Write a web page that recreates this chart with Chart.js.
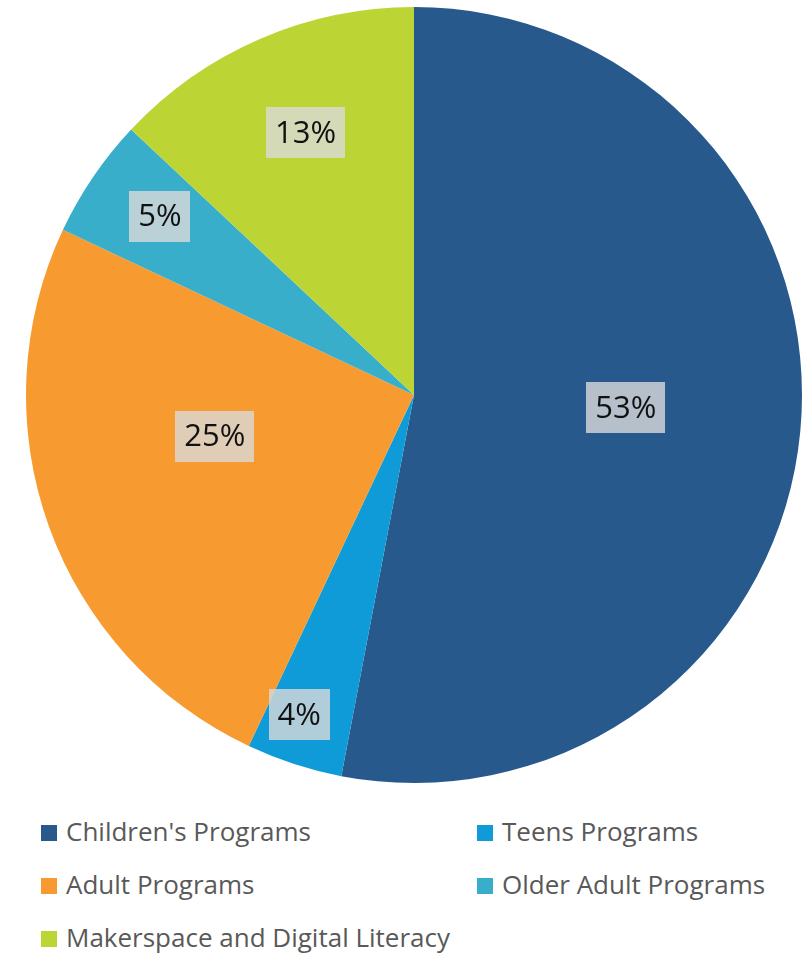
<!DOCTYPE html>
<html>
<head>
<meta charset="utf-8">
<script src="https://cdn.jsdelivr.net/npm/chart.js@4"></script>
<style>
  html, body { margin: 0; padding: 0; background: #fff; }
  #wrap { position: relative; width: 810px; height: 953px; }
  #pie { position: absolute; left: 0; top: 0; }
  #legend { position: absolute; left: 0; top: 805px; width: 810px; font-family: "Open Sans", "Noto Sans", sans-serif; font-size: 26px; color: #595959; }
  .item { position: absolute; height: 53px; line-height: 53px; white-space: nowrap; }
  .item span.box { display: inline-block; width: 16px; height: 16px; margin-right: 9px; vertical-align: 0px; }
</style>
</head>
<body>
<div id="wrap">
  <canvas id="pie" width="810" height="800"></canvas>
  <div id="legend"></div>
</div>
<script>
const categories = ["Children's Programs", 'Teens Programs', 'Adult Programs', 'Older Adult Programs', 'Makerspace and Digital Literacy'];
const shares = [53, 4, 25, 5, 13];
const colors = ['#27598C', '#0F9BD7', '#F79A30', '#39AECA', '#BCD535'];

// where each percent label sits inside its slice:
// fraction of the slice's sweep, and fraction of the radius
const labelSweep = [0.49, 0.62, 0.59, 0.55, 0.52];
const labelRadius = [0.547, 0.876, 0.524, 0.80, 0.731];

const percentLabels = {
    id: 'percentLabels',
    afterDatasetsDraw(chart) {
        const ctx = chart.ctx;
        const meta = chart.getDatasetMeta(0);
        ctx.save();
        ctx.font = '31px "Open Sans", "Noto Sans", sans-serif';
        ctx.textAlign = 'center';
        ctx.textBaseline = 'middle';
        meta.data.forEach((arc, i) => {
            const a = arc.startAngle + (arc.endAngle - arc.startAngle) * labelSweep[i];
            const r = arc.outerRadius * labelRadius[i];
            const x = arc.x + Math.cos(a) * r;
            const y = arc.y + Math.sin(a) * r;
            const text = shares[i] + '%';
            const w = ctx.measureText(text).width + 18;
            const h = 51;
            ctx.fillStyle = 'rgba(217, 217, 217, 0.8)';
            ctx.fillRect(Math.round(x - w / 2), Math.round(y - h / 2), Math.round(w), h);
            ctx.fillStyle = '#111';
            ctx.fillText(text, x, y + 1);
        });
        ctx.restore();
    }
};

new Chart(document.getElementById('pie').getContext('2d'), {
    type: 'pie',
    data: {
        labels: categories,
        datasets: [{
            data: shares,
            backgroundColor: colors,
            borderWidth: 0
        }]
    },
    options: {
        responsive: false,
        animation: false,
        layout: { padding: { left: 18, right: 0, top: 7, bottom: 17 } },
        plugins: {
            legend: { display: false },
            tooltip: { enabled: false }
        }
    },
    plugins: [percentLabels]
});

// two-column legend under the pie
const legend = document.getElementById('legend');
const colX = [41, 477];
categories.forEach((name, i) => {
    const item = document.createElement('div');
    item.className = 'item';
    item.style.left = colX[i % 2] + 'px';
    item.style.top = (Math.floor(i / 2) * 53) + 'px';
    const box = document.createElement('span');
    box.className = 'box';
    box.style.background = colors[i];
    item.appendChild(box);
    item.appendChild(document.createTextNode(name));
    legend.appendChild(item);
});
</script>
</body>
</html>
